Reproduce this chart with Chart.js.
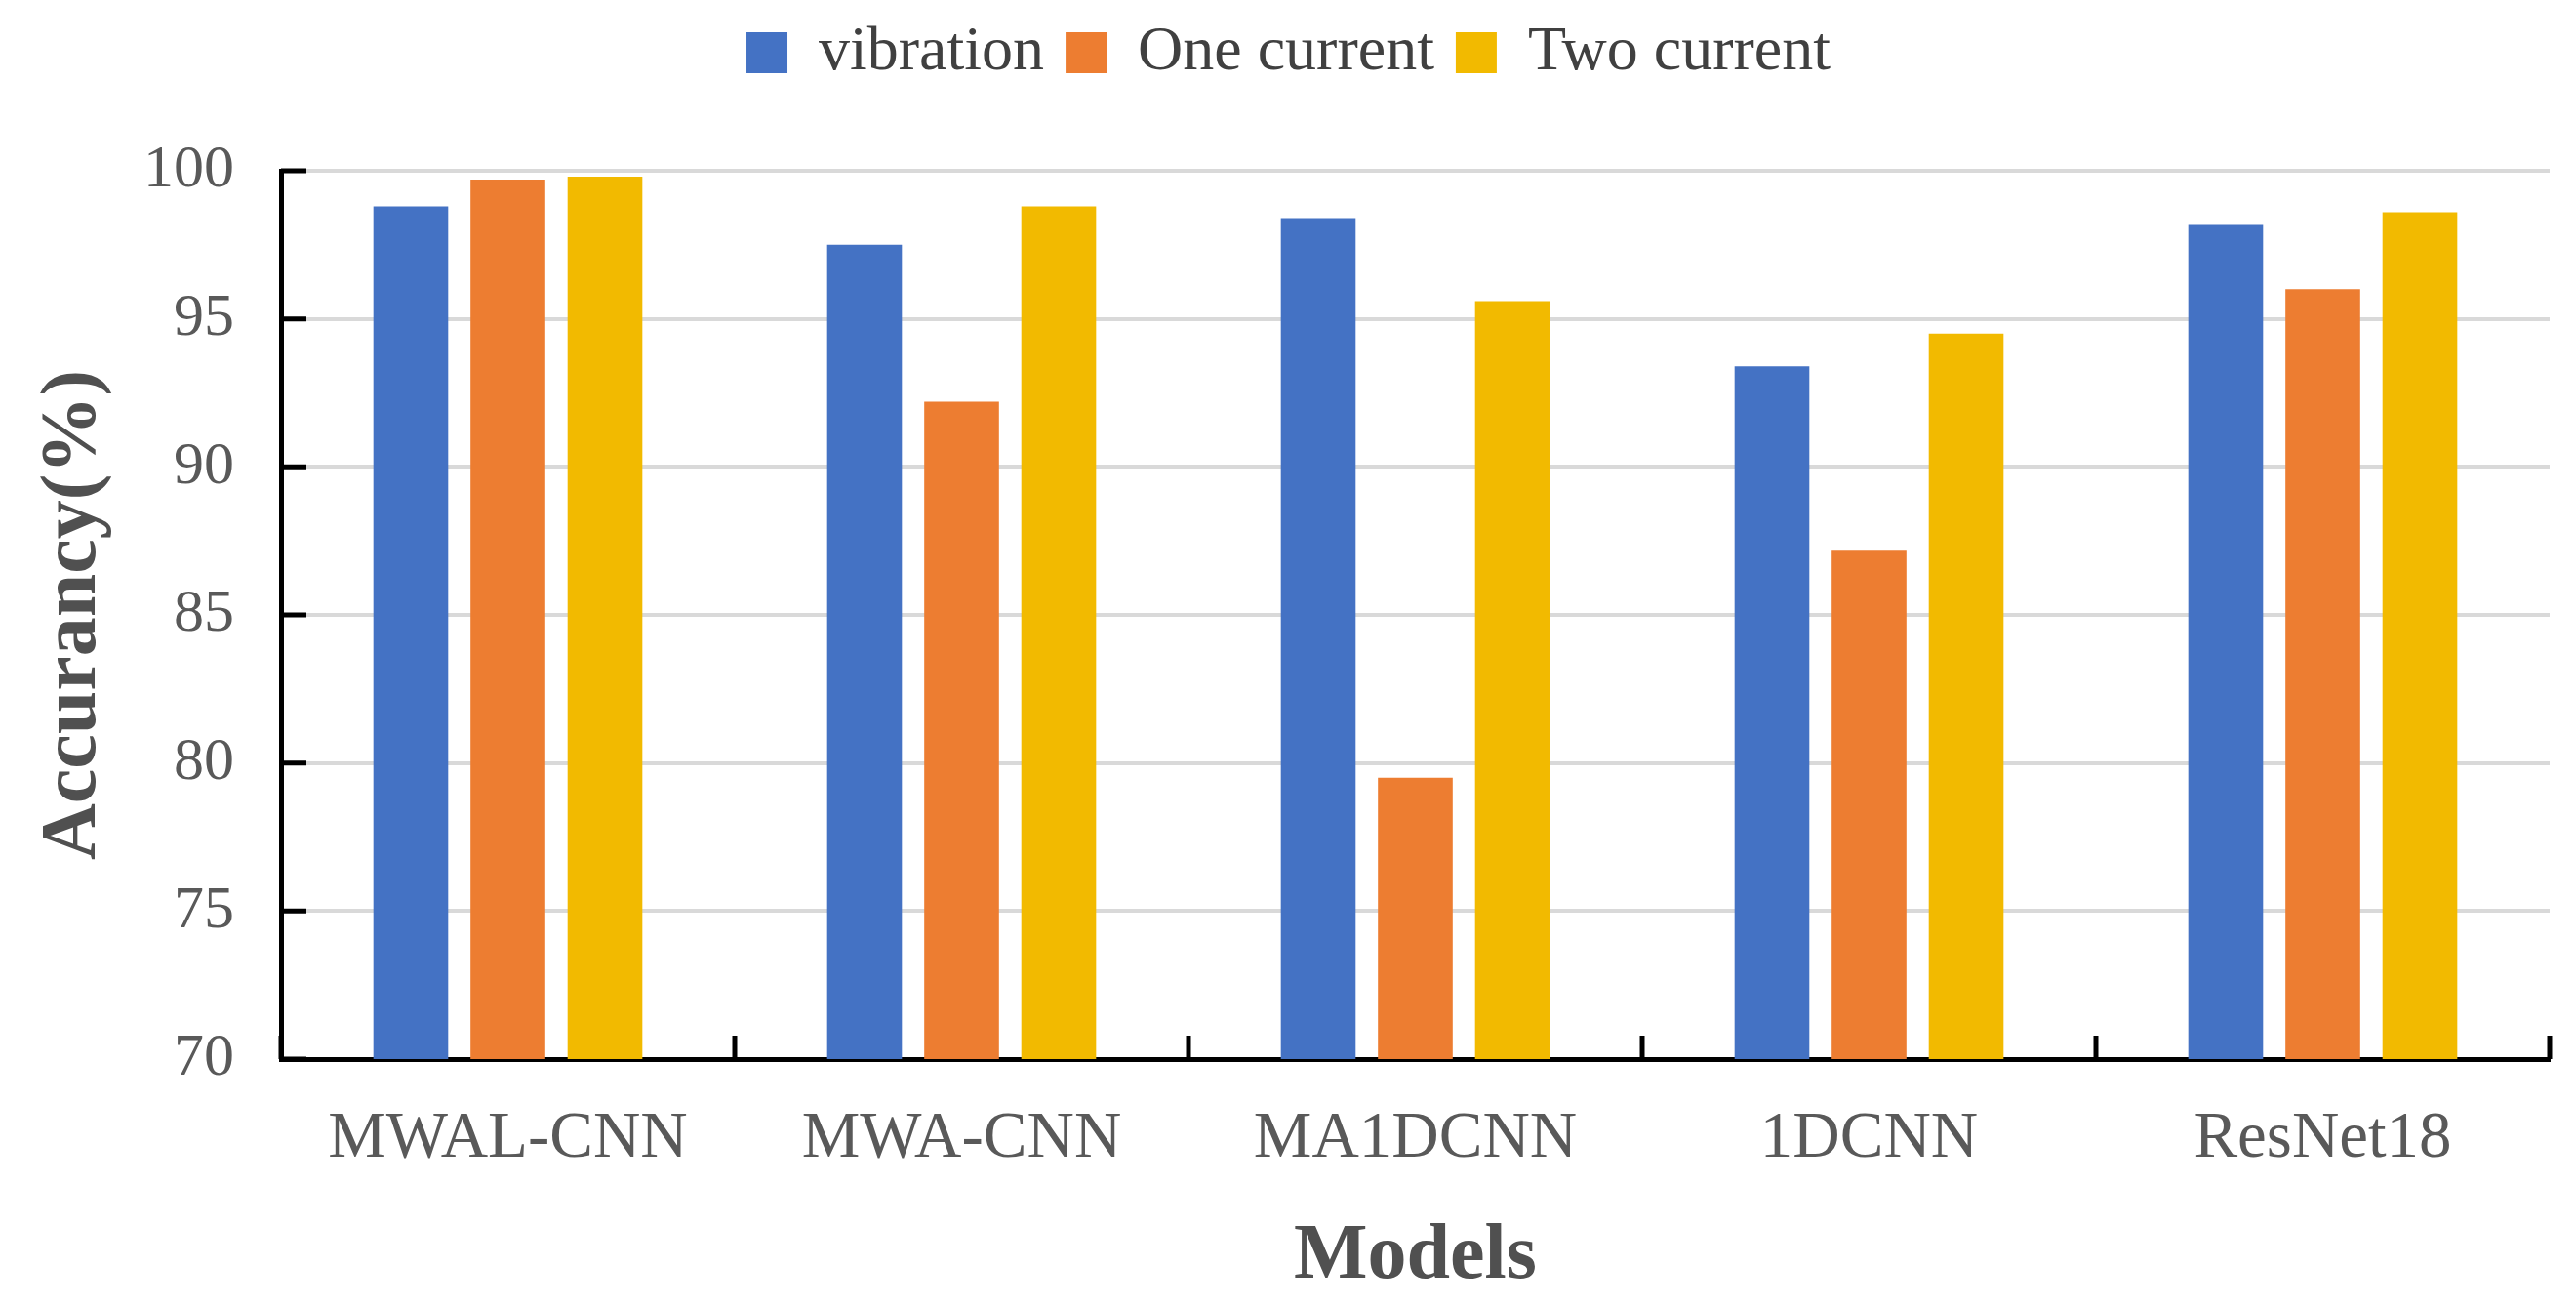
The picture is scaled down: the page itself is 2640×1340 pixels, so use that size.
<!DOCTYPE html>
<html>
<head>
<meta charset="utf-8">
<script src="https://cdn.jsdelivr.net/npm/chart.js@4.4.0/dist/chart.umd.min.js"></script>
<style>
  html, body { margin: 0; padding: 0; background: #fff; }
  #wrap { width: 2640px; height: 1340px; }
</style>
</head>
<body>
<div id="wrap"><canvas id="chartCanvas"></canvas></div>
<script>
const models = ["MWAL-CNN", "MWA-CNN", "MA1DCNN", "1DCNN", "ResNet18"];
const vibration = [98.8, 97.5, 98.4, 93.4, 98.2];
const oneCurrent = [99.7, 92.2, 79.5, 87.2, 96.0];
const twoCurrent = [99.8, 98.8, 95.6, 94.5, 98.6];
const yMin = 70;
const yMax = 100;
const yStep = 5;

const serif = "'Liberation Serif', 'Times New Roman', serif";

// make room between legend and plot
const legendGap = {
  id: "legendGap",
  beforeInit(chart) {
    const originalFit = chart.legend.fit;
    chart.legend.fit = function fit() {
      originalFit.bind(chart.legend)();
      this.height += 79;
    };
  },
};

// ticks pointing into the plot, like the original
const innerTicks = {
  id: "innerTicks",
  afterDraw(chart) {
    const { ctx } = chart;
    const x = chart.scales.x;
    const y = chart.scales.y;
    ctx.save();
    ctx.strokeStyle = "#000";
    ctx.lineWidth = 5;
    ctx.beginPath();
    y.ticks.forEach((t) => {
      const py = y.getPixelForValue(t.value);
      ctx.moveTo(x.left, py);
      ctx.lineTo(x.left + 26, py);
    });
    const w = (x.right - x.left) / models.length;
    for (let i = 0; i <= models.length; i++) {
      const px = x.left + i * w;
      ctx.moveTo(px, y.bottom);
      ctx.lineTo(px, y.bottom - 24);
    }
    ctx.stroke();
    ctx.restore();
  },
};

new Chart(document.getElementById("chartCanvas"), {
  type: "bar",
  data: {
    labels: models,
    datasets: [
      { label: "vibration", data: vibration, backgroundColor: "#4472C4" },
      { label: "One current", data: oneCurrent, backgroundColor: "#ED7D31" },
      { label: "Two current", data: twoCurrent, backgroundColor: "#F2BA00" },
    ],
  },
  options: {
    responsive: true,
    maintainAspectRatio: false,
    animation: false,
    devicePixelRatio: 1,
    categoryPercentage: 0.642,
    barPercentage: 0.77,
    layout: { padding: { top: 0, left: 28, right: 27, bottom: 4 } },
    plugins: {
      legend: {
        position: "top",
        labels: {
          boxWidth: 42,
          boxHeight: 42,
          padding: 22,
          color: "#404040",
          font: { family: serif, size: 64 },
        },
      },
      tooltip: { enabled: false },
    },
    scales: {
      x: {
        afterFit(scale) { scale.height = 251; },
        grid: { display: false, drawTicks: false },
        border: { display: true, color: "#000", width: 5 },
        ticks: {
          padding: 42,
          color: "#595959",
          font: { family: serif, size: 67 },
        },
        title: {
          display: true,
          text: "Models",
          color: "#505050",
          padding: { top: 0, bottom: 0 },
          font: { family: serif, size: 80, weight: "bold" },
        },
      },
      y: {
        min: yMin,
        max: yMax,
        afterFit(scale) { scale.width = 260; },
        grid: { color: "#d9d9d9", lineWidth: 4, drawTicks: false },
        border: { display: true, color: "#000", width: 5 },
        ticks: {
          stepSize: yStep,
          padding: 48,
          color: "#595959",
          font: { family: serif, size: 62 },
        },
        title: {
          display: true,
          text: "Accurancy(%)",
          color: "#505050",
          padding: { top: 0, bottom: 0 },
          font: { family: serif, size: 80, weight: "bold" },
        },
      },
    },
  },
  plugins: [legendGap, innerTicks],
});
</script>
</body>
</html>
